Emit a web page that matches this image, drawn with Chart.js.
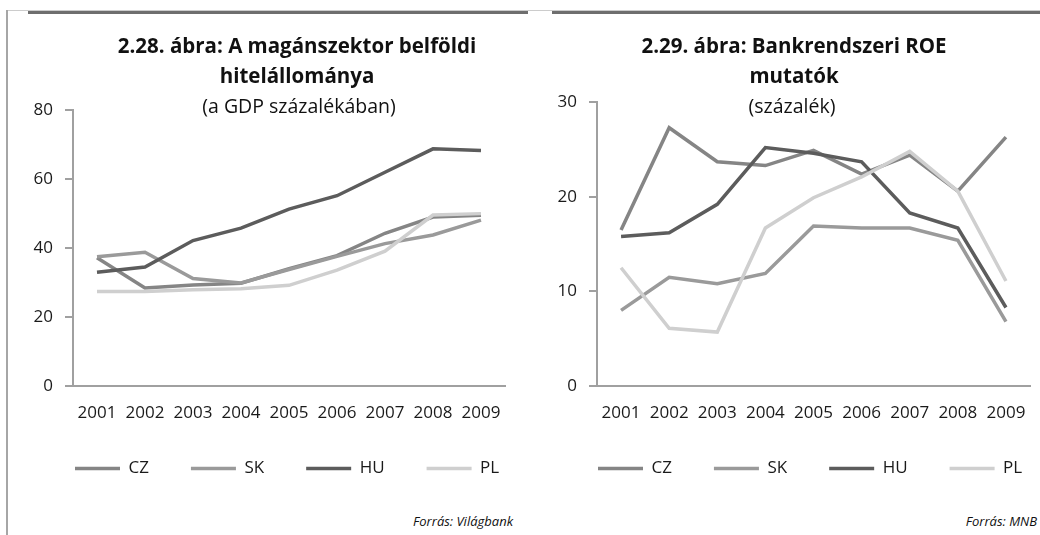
<!DOCTYPE html>
<html>
<head>
<meta charset="utf-8">
<script src="https://cdn.jsdelivr.net/npm/chart.js@4"></script>
<style>
  body { margin: 0; background: #fff; }
  #page { position: relative; width: 1040px; height: 535px; overflow: hidden; font-family: "Open Sans", sans-serif; color: #111; }
  .abs { position: absolute; }
  .title { font-weight: bold; font-size: 20.5px; line-height: 30px; text-align: center; }
  .sub { font-size: 19.5px; line-height: 22px; text-align: center; }
  .src { font-style: italic; font-size: 13px; text-align: right; }
  canvas { position: absolute; }
</style>
</head>
<body>
<div id="page">
  <!-- keret -->
  <div class="abs" style="left:8px;top:10px;width:1032px;height:1px;background:#ccc"></div>
  <div class="abs" style="left:28px;top:11px;width:500px;height:3px;background:#6e6e6e"></div>
  <div class="abs" style="left:552px;top:11px;width:488px;height:3px;background:#6e6e6e"></div>
  <div class="abs" style="left:6px;top:10px;width:2px;height:525px;background:#a6a6a6"></div>

  <canvas id="creditChart" style="left:0;top:88px" width="545" height="399"></canvas>
  <canvas id="roeChart" style="left:520px;top:80px" width="560" height="407"></canvas>

  <div class="abs title" style="left:97px;top:30px;width:400px">2.28. ábra: A magánszektor belföldi<br>hitelállománya</div>
  <div class="abs sub" style="left:99px;top:95px;width:400px">(a GDP százalékában)</div>
  <div class="abs title" style="left:594px;top:30px;width:400px">2.29. ábra: Bankrendszeri ROE<br>mutatók</div>
  <div class="abs sub" style="left:592px;top:95px;width:400px">(százalék)</div>

  <div class="abs src" style="left:313px;top:512px;width:200px">Forrás: Világbank</div>
  <div class="abs src" style="left:837px;top:512px;width:200px">Forrás: MNB</div>
</div>
<script>
// évek
const years = ["2001", "2002", "2003", "2004", "2005", "2006", "2007", "2008", "2009"];
const countries = ["CZ", "SK", "HU", "PL"];
const colors = ["#858585", "#9a9a9a", "#5c5c5c", "#cfcfcf"];

// 2.28 hitelállomány, GDP %
const creditCZ = [37.2, 28.4, 29.3, 29.8, 34.0, 37.8, 44.3, 49.0, 49.5];
const creditSK = [37.5, 38.8, 31.2, 29.9, 33.8, 37.6, 41.3, 43.8, 48.1];
const creditHU = [33.0, 34.5, 42.2, 45.8, 51.3, 55.2, 62.0, 68.8, 68.3];
const creditPL = [27.4, 27.4, 27.9, 28.2, 29.2, 33.6, 39.1, 49.6, 50.0];

// 2.29 ROE, %
const roeCZ = [16.5, 27.3, 23.7, 23.3, 24.9, 22.4, 24.4, 20.6, 26.3];
const roeSK = [8.0, 11.5, 10.8, 11.9, 16.9, 16.7, 16.7, 15.4, 6.8];
const roeHU = [15.8, 16.2, 19.2, 25.2, 24.6, 23.7, 18.3, 16.7, 8.3];
const roePL = [12.5, 6.1, 5.7, 16.7, 19.9, 22.1, 24.8, 20.6, 11.1];

Chart.defaults.font.family = "'Open Sans', sans-serif";
Chart.defaults.font.size = 17;
Chart.defaults.color = "#1a1a1a";

function makeDatasets(series) {
  return series.map(function(data, i) {
    return {
      label: countries[i],
      data: data,
      borderColor: colors[i],
      backgroundColor: colors[i],
      borderWidth: 3.5,
      pointRadius: 0,
      tension: 0,
      order: 3 - i
    };
  });
}

// padLeft + yWidth = bal tengely helye, rightGap = üres sáv jobbra
function createLineChart(id, series, yMax, yStep, padLeft, yWidth, rightGap) {
  const ctx = document.getElementById(id);
  new Chart(ctx, {
    type: "line",
    data: { labels: years, datasets: makeDatasets(series) },
    options: {
      responsive: false,
      animation: false,
      layout: { padding: { left: padLeft, right: 0, top: 0, bottom: 0 } },
      plugins: {
        tooltip: { enabled: false },
        legend: {
          position: "bottom",
          align: "start",
          labels: {
            usePointStyle: true,
            pointStyle: "line",
            pointStyleWidth: 45,
            padding: 42,
            sort: function(a, b) { return a.datasetIndex - b.datasetIndex; }
          }
        }
      },
      scales: {
        x: {
          offset: true,
          grid: { display: false, drawTicks: false },
          border: { display: true, color: "#a0a0a0", width: 2 },
          ticks: { padding: 17, maxRotation: 0 },
          afterFit: function(scale) { scale.height = 32; }
        },
        y: {
          min: 0,
          max: yMax,
          afterFit: function(scale) { scale.width = yWidth; },
          ticks: { stepSize: yStep, padding: 12 },
          grid: { drawOnChartArea: false, drawTicks: true, tickLength: 8, color: "#a0a0a0", lineWidth: 2 },
          border: { display: true, color: "#a0a0a0", width: 2 }
        },
        gap: {
          position: "right",
          grid: { display: false, drawTicks: false },
          border: { display: false },
          ticks: { display: false },
          afterFit: function(scale) { scale.width = rightGap; }
        }
      }
    }
  });
}

createLineChart("creditChart", [creditCZ, creditSK, creditHU, creditPL], 80, 20, 33, 40, 40);
createLineChart("roeChart", [roeCZ, roeSK, roeHU, roePL], 30, 10, 36, 41, 50);
</script>
</body>
</html>
